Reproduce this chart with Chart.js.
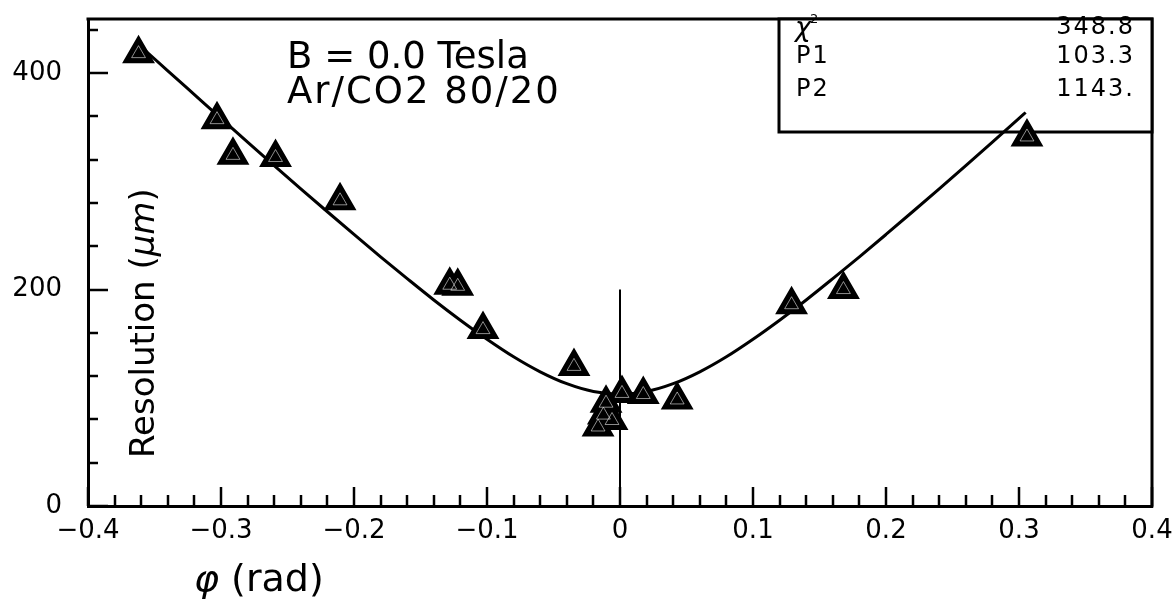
<!DOCTYPE html>
<html>
<head>
<meta charset="utf-8">
<title>Resolution vs angle</title>
<script src="https://cdn.jsdelivr.net/npm/chart.js@4/dist/chart.umd.min.js"></script>
<style>
  html, body { margin: 0; padding: 0; background: #fff; }
</style>
</head>
<body>
<canvas id="resChart" width="1174" height="602"></canvas>
<script>
// measured points: track angle (rad) and resolution (um)
var phiPts = [-0.362, -0.303, -0.291, -0.259, -0.2105, -0.128, -0.122, -0.103, -0.0346,
              -0.0165, -0.0125, -0.0105, -0.006, 0.0015, 0.0175, 0.043, 0.129, 0.168, 0.306];
var resPts = [418, 357, 324, 322, 282, 204, 203, 163, 129,
              73, 84, 95, 79, 104, 103, 98, 186, 200, 341];

// fitted curve, sampled along phi
var fitPhi = [-0.362, -0.34, -0.32, -0.30, -0.28, -0.26, -0.24, -0.22, -0.20, -0.18, -0.16, -0.14,
              -0.12, -0.10, -0.08, -0.06, -0.04, -0.02, 0, 0.02, 0.04, 0.06, 0.08, 0.10, 0.12,
              0.14, 0.16, 0.18, 0.20, 0.22, 0.24, 0.26, 0.28, 0.30, 0.305];
var fitRes = [426.5, 402.1, 380.1, 358.1, 336.3, 314.6, 293.1, 271.9, 250.9, 230.2, 210.1, 190.4,
              171.7, 154.1, 137.9, 124.0, 113.0, 105.8, 103.3, 105.8, 113.0, 124.0, 137.9, 154.1, 171.7,
              190.4, 210.1, 230.2, 250.9, 271.9, 293.1, 314.6, 336.3, 358.1, 363.6];

// marker line at phi = 0
var zeroPhi = [0, 0];
var zeroRes = [0, 200];

var xTickVals = [-0.4, -0.3, -0.2, -0.1, 0, 0.1, 0.2, 0.3, 0.4];
var yTickVals = [0, 200, 400];

var statNames = ['\u03C7', 'P1', 'P2'];
var statValues = ['348.8', '103.3', '1143.'];

function pairs(xs, ys) {
  return xs.map(function (x, i) { return { x: x, y: ys[i] }; });
}

var FONT = "'DejaVu Sans', sans-serif";

// frame, inward ticks, stats box and the free text
var paperPlugin = {
  id: 'paper',
  beforeDatasetsDraw: function (chart) {
    var c = chart.ctx, a = chart.chartArea;
    var xs = chart.scales.x, ys = chart.scales.y;
    c.save();
    c.strokeStyle = '#000';
    c.lineCap = 'square';

    // top and right frame
    c.lineWidth = 3;
    c.beginPath();
    c.moveTo(a.left, a.top);
    c.lineTo(a.right, a.top);
    c.lineTo(a.right, a.bottom);
    c.stroke();

    // x ticks, pointing up into the plot
    c.lineWidth = 2.5;
    c.lineCap = 'butt';
    for (var i = 0; i <= 40; i++) {
      var v = -0.4 + i * 0.02;
      var px = Math.round(xs.getPixelForValue(v));
      var len = (i % 5 === 0) ? 19 : 11;
      c.beginPath();
      c.moveTo(px, a.bottom);
      c.lineTo(px, a.bottom - len);
      c.stroke();
    }
    // y ticks, pointing right
    for (var j = 0; j <= 11; j++) {
      var yv = j * 40;
      var py = Math.round(ys.getPixelForValue(yv));
      var ylen = (yv % 200 === 0) ? 20 : 10;
      c.beginPath();
      c.moveTo(a.left, py);
      c.lineTo(a.left + ylen, py);
      c.stroke();
    }

    // stats box (the fit curve runs over its lower edge)
    c.fillStyle = '#fff';
    c.fillRect(779, a.top, a.right - 779, 113);
    c.lineWidth = 3;
    c.strokeRect(779, a.top, a.right - 779, 113);
    c.restore();
  },
  afterDraw: function (chart) {
    var c = chart.ctx;
    c.save();
    c.fillStyle = '#000';
    c.textBaseline = 'alphabetic';

    // stats box entries
    var rowBase = [34, 63, 96];
    c.letterSpacing = '2px';
    for (var k = 0; k < statNames.length; k++) {
      c.textAlign = 'left';
      if (k === 0) {
        c.font = 'italic 27px ' + FONT;
        c.fillText(statNames[k], 795, rowBase[k] + 2);
        c.font = '13px ' + FONT;
        c.fillText('2', 810, 23);
      } else {
        c.font = '24px ' + FONT;
        c.fillText(statNames[k], 796, rowBase[k]);
      }
      c.font = '24px ' + FONT;
      c.textAlign = 'right';
      c.fillText(statValues[k], 1135, rowBase[k]);
    }
    c.letterSpacing = '0px';
    c.textAlign = 'left';

    // run conditions
    c.font = '37px ' + FONT;
    c.fillText('B = 0.0 Tesla', 287, 68);
    c.letterSpacing = '2px';
    c.fillText('Ar/CO2 80/20', 287, 103);
    c.letterSpacing = '0px';

    // x axis title
    var x0 = 194;
    c.font = 'italic 38px ' + FONT;
    c.fillText('\u03C6', x0, 591);
    x0 += c.measureText('\u03C6').width + 12;
    c.font = '38px ' + FONT;
    c.fillText('(rad)', x0, 591);

    // y axis title, rotated, sitting inside the frame
    c.translate(154, 458);
    c.rotate(-Math.PI / 2);
    var t = 0;
    c.font = '34px ' + FONT;
    c.fillText('Resolution (', t, 0);
    t += c.measureText('Resolution (').width;
    c.font = 'italic 34px ' + FONT;
    c.fillText('\u03BCm', t, 0);
    t += c.measureText('\u03BCm').width;
    c.font = '34px ' + FONT;
    c.fillText(')', t, 0);
    c.restore();
  }
};

var ctx = document.getElementById('resChart').getContext('2d');
var resChart = new Chart(ctx, {
  type: 'scatter',
  data: {
    datasets: [
      {
        label: 'inner',
        data: pairs(phiPts, resPts),
        pointStyle: 'triangle',
        pointRadius: 8,
        backgroundColor: 'rgba(0,0,0,0)',
        borderColor: 'rgba(255,255,255,0.55)',
        borderWidth: 1
      },
      {
        label: 'data',
        data: pairs(phiPts, resPts),
        pointStyle: 'triangle',
        pointRadius: 17,
        backgroundColor: '#000',
        borderColor: '#000',
        borderWidth: 2
      },
      {
        label: 'fit',
        data: pairs(fitPhi, fitRes),
        showLine: true,
        borderColor: '#000',
        borderWidth: 3,
        pointRadius: 0,
        cubicInterpolationMode: 'monotone'
      },
      {
        label: 'zero',
        data: pairs(zeroPhi, zeroRes),
        showLine: true,
        borderColor: '#000',
        borderWidth: 2,
        pointRadius: 0
      }
    ]
  },
  options: {
    responsive: false,
    animation: false,
    events: [],
    layout: { padding: { top: 12, right: 22, left: 0, bottom: 0 } },
    plugins: {
      legend: { display: false },
      tooltip: { enabled: false }
    },
    scales: {
      x: {
        type: 'linear',
        min: -0.4,
        max: 0.4,
        grid: { display: false, drawTicks: false },
        border: { display: true, color: '#000', width: 3 },
        afterBuildTicks: function (s) {
          s.ticks = xTickVals.map(function (v) { return { value: v }; });
        },
        afterFit: function (s) {
          s.height = 96;
          s.paddingLeft = 0;
          s.paddingRight = 0;
        },
        ticks: {
          color: '#000',
          padding: 10,
          maxRotation: 0,
          font: { family: FONT, size: 26 },
          callback: function (v) {
            if (Math.abs(v) < 1e-9) return '0';
            return v.toFixed(1).replace('-', '\u2212');
          }
        }
      },
      y: {
        type: 'linear',
        min: 0,
        max: 450,
        grid: { display: false, drawTicks: false },
        border: { display: true, color: '#000', width: 3 },
        afterBuildTicks: function (s) {
          s.ticks = yTickVals.map(function (v) { return { value: v }; });
        },
        afterFit: function (s) {
          s.width = 88;
          s.paddingTop = 0;
          s.paddingBottom = 0;
        },
        ticks: {
          color: '#000',
          padding: 26,
          font: { family: FONT, size: 26 }
        }
      }
    }
  },
  plugins: [paperPlugin]
});
</script>
</body>
</html>
